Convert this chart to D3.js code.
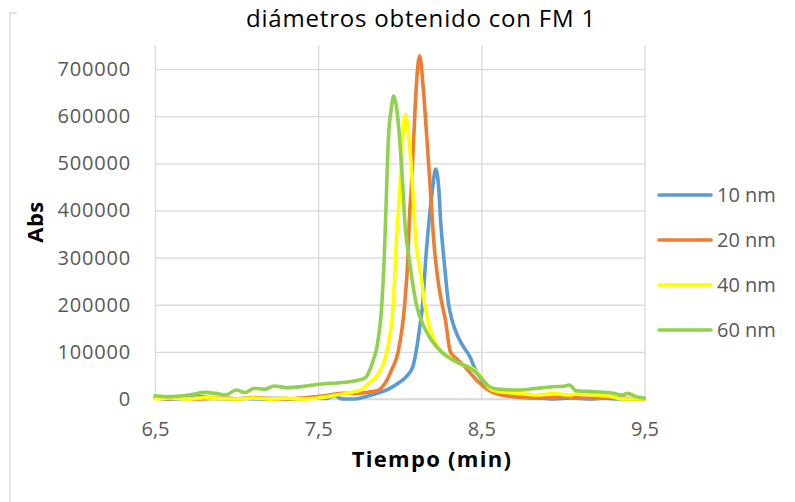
<!DOCTYPE html>
<html>
<head>
<meta charset="utf-8">
<script src="https://cdn.jsdelivr.net/npm/d3@7"></script>
<style>
  html, body { margin: 0; padding: 0; background: #fff; }
  svg { display: block; font-family: "Open Sans", "Noto Sans", sans-serif; }
</style>
</head>
<body>
<svg id="chart" width="795" height="502"></svg>
<script>
// Chromatogram traces: elution time (min) and absorbance for each particle diameter
const seriesNames = ["10 nm", "20 nm", "40 nm", "60 nm"];

const time10 = [6.50, 6.60, 6.70, 6.78, 6.85, 6.95, 7.05, 7.15, 7.25, 7.35, 7.45, 7.55, 7.60, 7.65, 7.72, 7.79,
  7.86, 7.94, 7.99, 8.04, 8.08, 8.10, 8.12, 8.14, 8.16, 8.18, 8.20, 8.22, 8.24, 8.25, 8.27, 8.30, 8.32, 8.36,
  8.39, 8.43, 8.46, 8.49, 8.53, 8.57, 8.65, 8.74, 8.85, 8.95, 9.05, 9.15, 9.25, 9.35, 9.45, 9.50];
const abs10 = [2000, 0, 1500, 5000, 2000, 0, 1000, 0, 1500, 0, 2000, 1000, 7000, 0, 0, 5000,
  12000, 22700, 33300, 47300, 68500, 100000, 146000, 200000, 300000, 380000, 443000, 488000, 443000, 380000, 300000, 200000, 167600, 130000,
  111000, 89700, 65000, 47300, 28000, 15500, 8000, 4000, 2000, 0, 2000, 0, 1500, 0, 0, 0];

const time20 = [6.50, 6.58, 6.65, 6.75, 6.85, 6.95, 7.00, 7.10, 7.20, 7.30, 7.40, 7.50, 7.57, 7.65, 7.72, 7.80,
  7.87, 7.91, 7.95, 7.99, 8.03, 8.05, 8.06, 8.07, 8.085, 8.10, 8.122, 8.145, 8.167, 8.188, 8.208, 8.235, 8.26, 8.28,
  8.31, 8.35, 8.39, 8.43, 8.49, 8.56, 8.62, 8.70, 8.80, 8.90, 9.00, 9.10, 9.20, 9.30, 9.40, 9.50];
const abs20 = [3000, 0, 2000, 0, 1000, 2000, 0, 3000, 1000, 0, 2000, 5000, 8500, 12000, 12000, 14000,
  19000, 33300, 61500, 100000, 200000, 300000, 390000, 443000, 549000, 655000, 728000, 655000, 549000, 443000, 337000, 250000, 200000, 167600,
  100000, 85000, 72000, 56000, 33300, 15500, 8500, 5000, 3000, 2000, 5000, 2000, 1000, 4000, 1000, 0];

const time40 = [6.50, 6.60, 6.70, 6.80, 6.90, 7.00, 7.10, 7.20, 7.30, 7.40, 7.50, 7.56, 7.62, 7.68, 7.72, 7.76,
  7.81, 7.87, 7.92, 7.96, 7.98, 8.00, 8.016, 8.035, 8.057, 8.08, 8.098, 8.112, 8.135, 8.153, 8.184, 8.22, 8.255,
  8.30, 8.347, 8.39, 8.43, 8.49, 8.55, 8.61, 8.73, 8.84, 8.94, 9.04, 9.10, 9.20, 9.30, 9.365, 9.45, 9.50];
const abs40 = [0, 2000, 0, 3000, 1000, 0, 2000, 0, 1500, 0, 2000, 5000, 9000, 12000, 15500, 19000,
  33300, 54500, 100000, 200000, 337000, 443000, 549000, 603000, 549000, 443000, 337000, 300000, 250000, 200000, 150000, 120000, 100000,
  90000, 78000, 72000, 68000, 51000, 22700, 15500, 12000, 8500, 12000, 8500, 12000, 8500, 5000, 0, 0, 0];

const time60 = [6.50, 6.59, 6.71, 6.81, 6.87, 6.93, 7.00, 7.05, 7.11, 7.17, 7.23, 7.31, 7.39, 7.47, 7.57, 7.67,
  7.73, 7.79, 7.82, 7.835, 7.86, 7.89, 7.905, 7.915, 7.93, 7.95, 7.963, 7.98, 8.00, 8.02, 8.03, 8.057, 8.102,
  8.153, 8.194, 8.255, 8.30, 8.367, 8.449, 8.494, 8.55, 8.61, 8.735, 8.837, 8.937, 9.00, 9.04, 9.08, 9.20, 9.30,
  9.365, 9.396, 9.45, 9.50];
const abs60 = [7000, 5000, 8500, 14000, 12000, 8500, 19000, 13500, 22700, 20500, 27500, 24000, 26000, 29700, 33300, 35400,
  38800, 45000, 65000, 80000, 110000, 200000, 300000, 400000, 549000, 620000, 643000, 620000, 549000, 443000, 380000, 300000, 200000,
  150000, 125000, 100000, 88000, 75700, 61500, 47000, 26000, 20500, 19000, 22700, 26000, 27000, 29700, 17600, 15500, 12700,
  8500, 12000, 5000, 2000];

const seriesTimes = [time10, time20, time40, time60];
const seriesAbs = [abs10, abs20, abs40, abs60];

const xTicks = [6.5, 7.5, 8.5, 9.5];
const yTicks = [0, 100000, 200000, 300000, 400000, 500000, 600000, 700000];

const colors = ["#5B9BD5", "#ED7D31", "#FFFF00", "#92D050"];
const gridColor = "#D9D9D9";
const labelColor = "#595959";

const svg = d3.select("#chart");

// Outer chart frame (left edge and top corner)
svg.append("path")
  .attr("d", "M10,502V13H17")
  .attr("fill", "none")
  .attr("stroke", gridColor)
  .attr("stroke-width", 1.3);

const x = d3.scaleLinear().domain([6.5, 9.5]).range([155, 644.5]);
const y = d3.scaleLinear().domain([0, 750000]).range([399, 45.5]);

// Horizontal gridlines and value labels
const yAxis = d3.axisLeft(y).tickValues(yTicks).tickSize(-(x.range()[1] - x.range()[0])).tickPadding(24)
  .tickFormat(d3.format("d"));
const gy = svg.append("g").attr("transform", `translate(${x.range()[0]},0)`).call(yAxis);
gy.select(".domain").remove();
gy.selectAll(".tick line").attr("stroke", gridColor).attr("stroke-width", 1.3);
gy.selectAll(".tick text").attr("fill", labelColor).attr("font-size", 20).attr("font-family", "Open Sans")
  .attr("letter-spacing", 0.8);

// Vertical gridlines and time labels
const xAxis = d3.axisBottom(x).tickValues(xTicks).tickSize(-(y.range()[0] - y.range()[1])).tickPadding(23)
  .tickFormat(d => d3.format(".1f")(d).replace(".", ","));
const gx = svg.append("g").attr("transform", `translate(0,${y.range()[0]})`).call(xAxis);
gx.select(".domain").remove();
gx.selectAll(".tick line").attr("stroke", gridColor).attr("stroke-width", 1.3);
gx.selectAll(".tick text").attr("fill", labelColor).attr("font-size", 20).attr("font-family", "Open Sans")
  .attr("dy", "0.71em");

// Baseline at zero
svg.append("line")
  .attr("x1", x.range()[0]).attr("x2", x.range()[1])
  .attr("y1", y(0)).attr("y2", y(0))
  .attr("stroke", gridColor).attr("stroke-width", 1.3);

// Traces
const line = d3.line()
  .x(d => x(d[0]))
  .y(d => y(d[1]))
  .curve(d3.curveMonotoneX);

svg.append("clipPath").attr("id", "plotClip")
  .append("rect")
  .attr("x", x.range()[0] - 2).attr("y", y.range()[1] - 10)
  .attr("width", x.range()[1] - x.range()[0] + 4).attr("height", y.range()[0] - y.range()[1] + 12);

const traces = svg.append("g").attr("clip-path", "url(#plotClip)");
seriesNames.forEach((name, i) => {
  const pts = seriesTimes[i].map((t, k) => [t, seriesAbs[i][k]]);
  traces.append("path")
    .datum(pts)
    .attr("fill", "none")
    .attr("stroke", colors[i])
    .attr("stroke-width", 3.6)
    .attr("stroke-linejoin", "round")
    .attr("stroke-linecap", "round")
    .attr("d", line);
});

// Title
svg.append("text")
  .attr("x", 421).attr("y", 27)
  .attr("text-anchor", "middle")
  .attr("font-size", 24)
  .attr("letter-spacing", 0.8)
  .attr("fill", "#000")
  .text("diámetros obtenido con FM 1");

// Axis titles
svg.append("text")
  .attr("x", 432).attr("y", 467)
  .attr("text-anchor", "middle")
  .attr("font-size", 22)
  .attr("letter-spacing", 1.3)
  .attr("font-weight", "bold")
  .attr("fill", "#000")
  .text("Tiempo (min)");

svg.append("text")
  .attr("transform", "translate(43,222) rotate(-90)")
  .attr("text-anchor", "middle")
  .attr("font-size", 22)
  .attr("letter-spacing", 0.5)
  .attr("font-weight", "bold")
  .attr("fill", "#000")
  .text("Abs");

// Legend
const legend = svg.append("g");
seriesNames.forEach((name, i) => {
  const ly = 195 + i * 45;
  legend.append("line")
    .attr("x1", 659).attr("x2", 711)
    .attr("y1", ly).attr("y2", ly)
    .attr("stroke", colors[i]).attr("stroke-width", 3.6)
    .attr("stroke-linecap", "round");
  legend.append("text")
    .attr("x", 717).attr("y", ly)
    .attr("dy", "0.35em")
    .attr("font-size", 20)
    .attr("fill", labelColor)
    .text(name);
});
</script>
</body>
</html>
